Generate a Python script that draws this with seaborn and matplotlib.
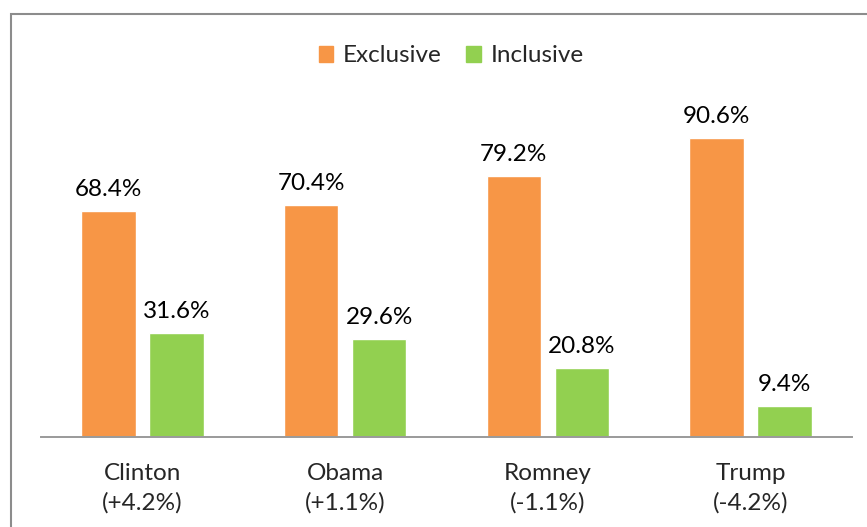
import matplotlib
matplotlib.use("Agg")
import matplotlib.pyplot as plt
import matplotlib.patches as mpatches
import seaborn as sns
import pandas as pd

candidates = ["Clinton", "Obama", "Romney", "Trump"]
shifts = ["(+4.2%)", "(+1.1%)", "(-1.1%)", "(-4.2%)"]
exclusive = [68.4, 70.4, 79.2, 90.6]
inclusive = [31.6, 29.6, 20.8, 9.4]
series = ["Exclusive", "Inclusive"]
colors = ["#F79646", "#92D050"]

df = pd.DataFrame({
    "candidate": candidates * 2,
    "share": exclusive + inclusive,
    "style": [series[0]] * 4 + [series[1]] * 4,
})

sns.set_theme(style="white")
plt.rcParams["font.family"] = ["Lato", "DejaVu Sans"]

FS = 17.5

fig = plt.figure(figsize=(8.67, 5.27), dpi=100)
ax = fig.add_axes([41 / 867, 1 - 437 / 527, (852 - 41) / 867, 0.626])

sns.barplot(data=df, x="candidate", y="share", hue="style", order=candidates,
            hue_order=series, palette=colors, width=0.67, gap=0.2,
            saturation=1, ax=ax, legend=False)

for container in ax.containers:
    ax.bar_label(container, labels=[f"{v:.1f}%" for v in container.datavalues],
                 padding=8, fontsize=FS, color="#000000")

ax.set_ylim(0, 100)
ax.set_xlim(-0.5, 3.5)
ax.set_xticks(range(len(candidates)))
ax.set_xticklabels([f"{c}\n{s}" for c, s in zip(candidates, shifts)],
                   fontsize=FS, linespacing=1.45)
ax.tick_params(axis="x", length=0, pad=19)
ax.set_yticks([])
ax.set_xlabel("")
ax.set_ylabel("")
for side in ["top", "left", "right"]:
    ax.spines[side].set_visible(False)
ax.spines["bottom"].set_color("#9a9a9a")
ax.spines["bottom"].set_linewidth(1.4)

handles = [mpatches.Patch(color=c, label=s) for c, s in zip(colors, series)]
fig.legend(handles=handles, loc="center", bbox_to_anchor=(451 / 867, 1 - 56 / 527),
           ncol=2, frameon=False, fontsize=FS, handlelength=0.6, handleheight=0.6,
           handletextpad=0.4, columnspacing=1.0)

# outer chart frame
fig.patches.append(mpatches.Rectangle((10.5 / 867, -0.1), 1.2, 1.1 - 13.5 / 527,
                                      transform=fig.transFigure, fill=False,
                                      edgecolor="#8c8c8c", linewidth=1.5))

fig.savefig("out.png", dpi=100)
